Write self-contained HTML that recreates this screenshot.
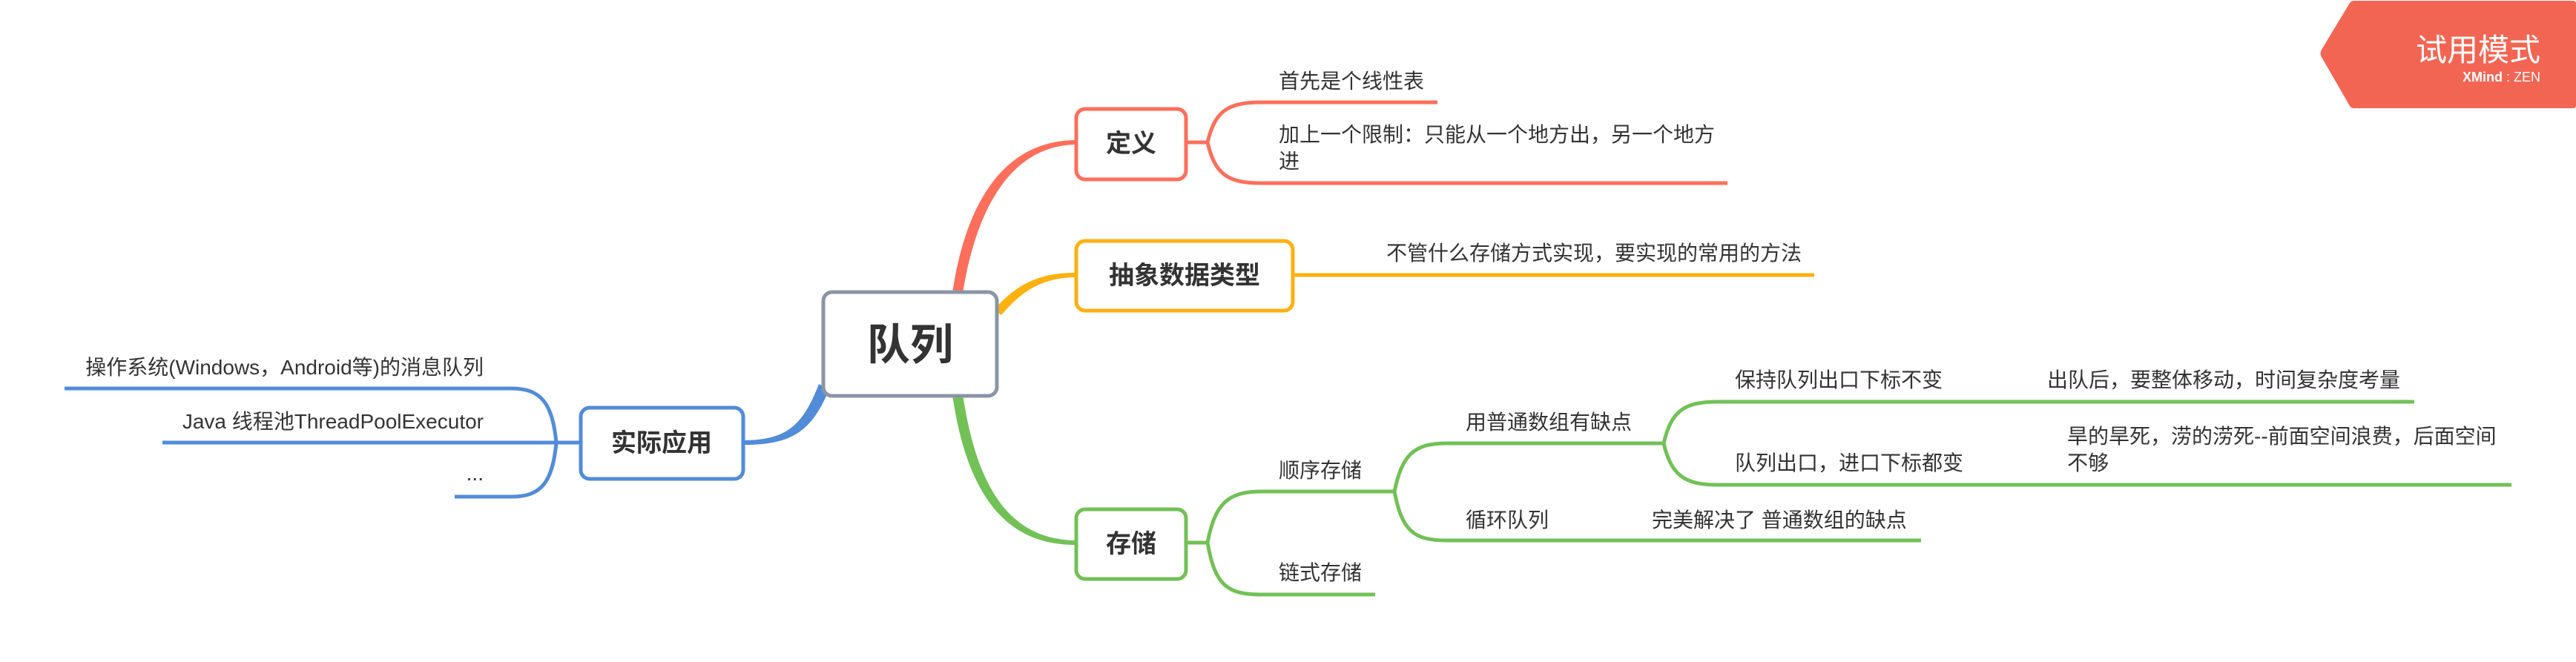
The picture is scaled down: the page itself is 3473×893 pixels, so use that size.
<!DOCTYPE html>
<html><head><meta charset="utf-8"><style>
html,body{margin:0;padding:0;background:#fff;}
svg{display:block;}
text{font-family:"Liberation Sans","Noto Sans CJK SC",sans-serif;fill:#333;}
.leaf{font-size:28px;}
.main{font-size:34px;font-weight:bold;}
</style></head><body>
<svg width="3473" height="893" viewBox="0 0 3473 893" xmlns="http://www.w3.org/2000/svg">
<rect width="3473" height="893" fill="#fff"/>
<!-- main branches (tapered) -->
<path d="M1284,395 C1305,255 1365,190 1449,189 L1449,195 C1375,197 1320,260 1298,395 Z" fill="#fd6f5b"/>
<path d="M1340,418 C1370,384 1400,368 1449,368 L1449,374 C1405,375 1378,392 1350,425 Z" fill="#fdb10f"/>
<path d="M1284,532 C1305,680 1365,735 1449,735 L1449,729 C1375,727 1320,680 1298,532 Z" fill="#72c157"/>
<path d="M1104,518 C1082,575 1060,593 1004,594 L1004,600 C1070,600 1095,580 1118,525 Z" fill="#528cd9"/>

<!-- 定义 children -->
<g fill="none" stroke="#fd6f5b" stroke-width="5">
<path d="M1601,192 H1628 C1638,150 1655,138 1700,138 H1938"/>
<path d="M1628,192 C1638,235 1655,247 1700,247 H2329"/>
</g>
<text class="leaf" x="1724" y="119">首先是个线性表</text>
<text class="leaf" x="1724" y="191">加上一个限制：只能从一个地方出，另一个地方</text>
<text class="leaf" x="1724" y="227">进</text>

<!-- 抽象 -->
<path d="M1745,371 H2446" fill="none" stroke="#fdb10f" stroke-width="5"/>
<text class="leaf" x="1869" y="351">不管什么存储方式实现，要实现的常用的方法</text>

<!-- 存储 children -->
<g fill="none" stroke="#72c157" stroke-width="5">
<path d="M1601,732 H1628 C1638,680 1655,663 1700,663 H1880"/>
<path d="M1628,732 C1638,790 1655,802 1700,802 H1854"/>
<path d="M1880,663 C1890,615 1905,598 1950,598 H2243"/>
<path d="M1880,663 C1890,715 1905,729 1950,729 H2590"/>
<path d="M2243,598 C2253,555 2270,542 2315,542 H3255"/>
<path d="M2243,598 C2253,640 2270,654 2315,654 H3386"/>
</g>
<text class="leaf" x="1724" y="644">顺序存储</text>
<text class="leaf" x="1724" y="782">链式存储</text>
<text class="leaf" x="1976" y="579">用普通数组有缺点</text>
<text class="leaf" x="1976" y="711">循环队列</text>
<text class="leaf" x="2227" y="711">完美解决了 普通数组的缺点</text>
<text class="leaf" x="2339" y="522">保持队列出口下标不变</text>
<text class="leaf" x="2760" y="522">出队后，要整体移动，时间复杂度考量</text>
<text class="leaf" x="2339" y="634">队列出口，进口下标都变</text>
<text class="leaf" x="2787" y="598">旱的旱死，涝的涝死--前面空间浪费，后面空间</text>
<text class="leaf" x="2787" y="634">不够</text>

<!-- 实际应用 children -->
<g fill="none" stroke="#528cd9" stroke-width="5">
<path d="M781,597 H750 C745,545 730,524 690,524 H87"/>
<path d="M781,597 H219"/>
<path d="M750,597 C745,650 730,670 690,670 H613"/>
</g>
<text class="leaf" x="652" y="505" text-anchor="end">操作系统(Windows，Android等)的消息队列</text>
<text class="leaf" x="652" y="578" text-anchor="end">Java 线程池ThreadPoolExecutor</text>
<text class="leaf" x="652" y="648" text-anchor="end">...</text>

<!-- boxes -->
<rect x="1110" y="394" width="234" height="140" rx="12" fill="#fff" stroke="#8a95a5" stroke-width="5"/>
<text x="1227" y="485" text-anchor="middle" style="font-size:58px;font-weight:bold">队列</text>
<rect x="1451" y="147" width="148" height="95" rx="12" fill="#fff" stroke="#fd6f5b" stroke-width="5"/>
<text class="main" x="1525" y="205" text-anchor="middle">定义</text>
<rect x="1451" y="325" width="292" height="94" rx="12" fill="#fff" stroke="#fdb10f" stroke-width="5"/>
<text class="main" x="1597" y="383" text-anchor="middle">抽象数据类型</text>
<rect x="1451" y="687" width="148" height="94" rx="12" fill="#fff" stroke="#72c157" stroke-width="5"/>
<text class="main" x="1525" y="745" text-anchor="middle">存储</text>
<rect x="783" y="550" width="219" height="96" rx="12" fill="#fff" stroke="#528cd9" stroke-width="5"/>
<text class="main" x="892" y="609" text-anchor="middle">实际应用</text>

<!-- badge -->
<path d="M3174,1 H3469 Q3473,1 3473,5 V142 Q3473,146 3469,146 H3174 Q3170,146 3168,143 L3130,77 Q3127,72 3130,67 L3168,4 Q3170,1 3174,1 Z" fill="#f36553"/>
<text x="3425" y="82" text-anchor="end" style="font-size:42px;fill:#fff">试用模式</text>
<text x="3425" y="110" text-anchor="end" style="font-size:18px;fill:#fff"><tspan font-weight="bold">XMind</tspan> : ZEN</text>
</svg>
</body></html>
